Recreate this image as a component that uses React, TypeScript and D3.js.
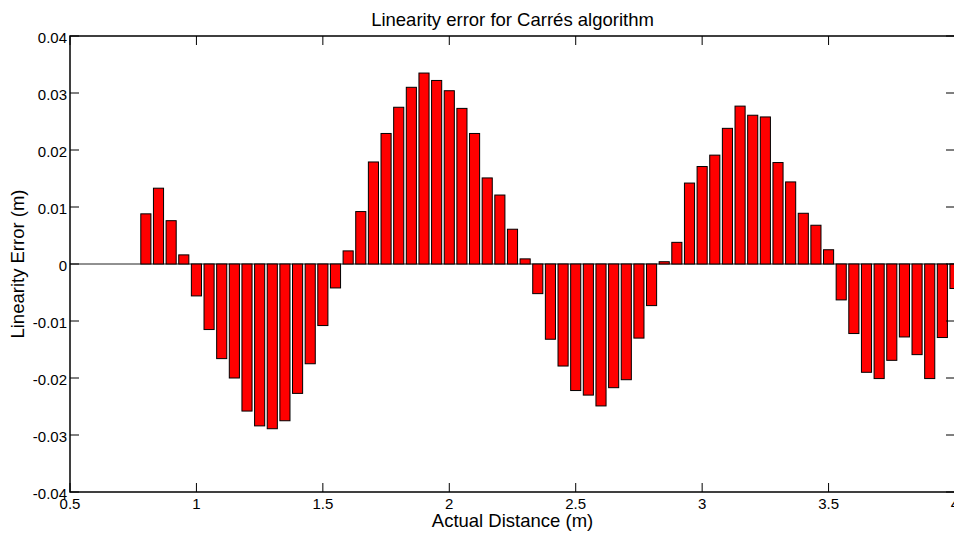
import React, { useEffect, useRef } from 'react';
import * as d3 from 'd3';

const distances = [
  0.8, 0.85, 0.9, 0.95, 1.0, 1.05, 1.1, 1.15, 1.2, 1.25, 1.3, 1.35, 1.4, 1.45, 1.5, 1.55,
  1.6, 1.65, 1.7, 1.75, 1.8, 1.85, 1.9, 1.95, 2.0, 2.05, 2.1, 2.15, 2.2, 2.25, 2.3, 2.35,
  2.4, 2.45, 2.5, 2.55, 2.6, 2.65, 2.7, 2.75, 2.8, 2.85, 2.9, 2.95, 3.0, 3.05, 3.1, 3.15,
  3.2, 3.25, 3.3, 3.35, 3.4, 3.45, 3.5, 3.55, 3.6, 3.65, 3.7, 3.75, 3.8, 3.85, 3.9, 3.95, 4.0,
];

const errors = [
  0.0088, 0.0133, 0.0076, 0.0016, -0.0056, -0.0115, -0.0166, -0.02, -0.0258, -0.0284, -0.0289,
  -0.0275, -0.0227, -0.0175, -0.0108, -0.0042, 0.0023, 0.0092, 0.0179, 0.0229, 0.0275, 0.031,
  0.0335, 0.0322, 0.0304, 0.0273, 0.0229, 0.0151, 0.0121, 0.0061, 0.0009, -0.0052, -0.0132,
  -0.0179, -0.0222, -0.023, -0.0249, -0.0217, -0.0203, -0.013, -0.0073, 0.0004, 0.0038, 0.0142,
  0.0171, 0.0191, 0.0238, 0.0277, 0.0261, 0.0258, 0.0178, 0.0144, 0.0089, 0.0068, 0.0025,
  -0.0063, -0.0122, -0.019, -0.0201, -0.0169, -0.0128, -0.0159, -0.0201, -0.0129, -0.0043,
];

const xTicks = [0.5, 1, 1.5, 2, 2.5, 3, 3.5, 4];
const yTicks = [-0.04, -0.03, -0.02, -0.01, 0, 0.01, 0.02, 0.03, 0.04];

const W = 954;
const H = 533;
const FONT = 'Liberation Sans, Arial, sans-serif';

const LinearityChart: React.FC = () => {
  const svgRef = useRef<SVGSVGElement>(null);

  useEffect(() => {
    if (!svgRef.current) return;
    const svg = d3.select(svgRef.current);
    svg.selectAll('*').remove();

    const left = 70;
    const right = 955;
    const top = 36;
    const bottom = 492;

    const x = d3.scaleLinear().domain([0.5, 4]).range([left, right]);
    const y = d3.scaleLinear().domain([-0.04, 0.04]).range([bottom, top]);
    const barW = x(0.54) - x(0.5);

    // zero baseline
    svg.append('line')
      .attr('x1', left).attr('x2', right)
      .attr('y1', y(0)).attr('y2', y(0))
      .attr('stroke', '#222')
      .attr('stroke-width', 1);

    svg.append('g')
      .selectAll('rect')
      .data(distances.map((d, i) => ({ d, v: errors[i] })))
      .join('rect')
      .attr('x', (p) => x(p.d) - barW / 2)
      .attr('width', barW)
      .attr('y', (p) => Math.min(y(p.v), y(0)))
      .attr('height', (p) => Math.abs(y(p.v) - y(0)))
      .attr('fill', '#ff0000')
      .attr('stroke', '#000')
      .attr('stroke-width', 1);

    // box
    svg.append('rect')
      .attr('x', left).attr('y', top)
      .attr('width', right - left).attr('height', bottom - top)
      .attr('fill', 'none')
      .attr('stroke', '#000')
      .attr('stroke-width', 1.5);

    const tickLen = 9;
    const ticks = svg.append('g').attr('stroke', '#000').attr('stroke-width', 1);
    xTicks.forEach((t) => {
      ticks.append('line').attr('x1', x(t)).attr('x2', x(t)).attr('y1', bottom).attr('y2', bottom - tickLen);
      ticks.append('line').attr('x1', x(t)).attr('x2', x(t)).attr('y1', top).attr('y2', top + tickLen);
    });
    yTicks.forEach((t) => {
      ticks.append('line').attr('x1', left).attr('x2', left + tickLen).attr('y1', y(t)).attr('y2', y(t));
      ticks.append('line').attr('x1', right).attr('x2', right - tickLen).attr('y1', y(t)).attr('y2', y(t));
    });

    svg.append('g')
      .selectAll('text')
      .data(xTicks)
      .join('text')
      .attr('x', (t) => x(t))
      .attr('y', bottom + 16.5)
      .attr('text-anchor', 'middle')
      .attr('font-size', 15)
      .attr('font-family', FONT)
      .text((t) => String(t));

    svg.append('g')
      .selectAll('text')
      .data(yTicks)
      .join('text')
      .attr('x', left - 3)
      .attr('y', (t) => y(t) + 6.5)
      .attr('text-anchor', 'end')
      .attr('font-size', 15)
      .attr('font-family', FONT)
      .text((t) => String(t));

    svg.append('text')
      .attr('x', (left + right) / 2)
      .attr('y', 26)
      .attr('text-anchor', 'middle')
      .attr('font-size', 18.5)
      .attr('font-family', FONT)
      .text('Linearity error for Carrés algorithm');

    svg.append('text')
      .attr('x', (left + right) / 2)
      .attr('y', 526.5)
      .attr('text-anchor', 'middle')
      .attr('font-size', 18.5)
      .attr('font-family', FONT)
      .text('Actual Distance (m)');

    svg.append('text')
      .attr('transform', `translate(23.5,${(top + bottom) / 2}) rotate(-90)`)
      .attr('text-anchor', 'middle')
      .attr('font-size', 18.5)
      .attr('font-family', FONT)
      .text('Linearity Error (m)');
  }, []);

  return (
    <svg
      ref={svgRef}
      width={W}
      height={H}
      style={{ position: 'absolute', left: 0, top: 0, background: '#fff' }}
    />
  );
};

export default function App() {
  return <LinearityChart />;
}
